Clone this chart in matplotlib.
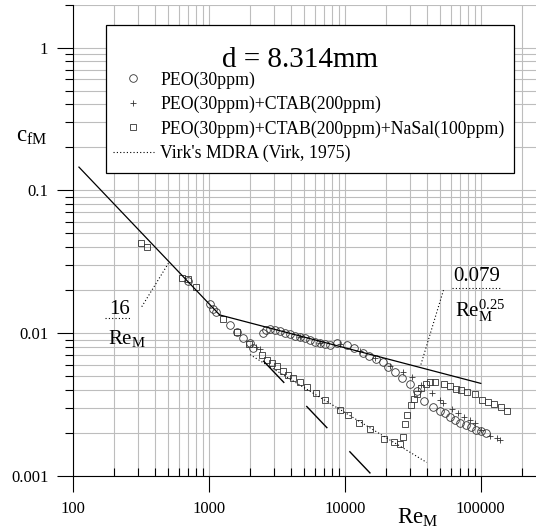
import numpy as np
import matplotlib
matplotlib.use('Agg')
import matplotlib.pyplot as plt
from matplotlib.patches import Rectangle
from matplotlib.ticker import LogLocator, NullFormatter

plt.rcParams['font.family'] = ['Liberation Serif', 'DejaVu Serif']
plt.rcParams['mathtext.fontset'] = 'custom'
plt.rcParams['mathtext.rm'] = 'Liberation Serif'
plt.rcParams['mathtext.it'] = 'Liberation Serif:italic'
plt.rcParams['mathtext.bf'] = 'Liberation Serif:bold'

# PEO(30ppm) - circles
peo_re = [699, 1015, 1068, 1124, 1425, 1597, 1786, 2001, 2116, 2506, 2602, 2809, 3058, 3327,
          3623, 3942, 4291, 4670, 5083, 5534, 6024, 6556, 7139, 7770, 8702, 10310, 11670,
          13480, 15050, 16940, 18920, 20770, 23190, 26340, 29900, 33960, 38240, 44770,
          50150, 54600, 59420, 64700, 70410, 77970, 84850, 92360, 100500, 109400]
peo_cf = [0.0232, 0.0159, 0.0148, 0.0141, 0.0114, 0.0102, 0.0092, 0.00848, 0.00782, 0.00997,
          0.01043, 0.01063, 0.01051, 0.01039, 0.01006, 0.00986, 0.00954, 0.00939, 0.00920,
          0.00890, 0.00871, 0.00852, 0.00843, 0.00829, 0.00848, 0.00825, 0.00782, 0.00729,
          0.00691, 0.00653, 0.00624, 0.00582, 0.00530, 0.00486, 0.00443, 0.00393, 0.00336,
          0.00303, 0.00284, 0.00274, 0.00259, 0.00247, 0.00236, 0.00227, 0.00219, 0.00210,
          0.00205, 0.00200]

# PEO(30ppm)+CTAB(200ppm) - plus
ctab_re = [2215, 2370, 4670, 6556, 9203, 12920, 16650, 21480, 26570, 31040, 36340, 43570,
           50150, 53040, 61160, 68420, 75370, 83410, 90780, 100500, 117100, 131200, 138800]
ctab_cf = [0.00793, 0.00774, 0.00931, 0.00846, 0.00832, 0.00743, 0.00664, 0.00588, 0.00537,
           0.00493, 0.00436, 0.00380, 0.00341, 0.00322, 0.00294, 0.00275, 0.00258, 0.00244,
           0.00233, 0.00209, 0.00189, 0.00184, 0.00178]

# PEO(30ppm)+CTAB(200ppm)+NaSal(100ppm) - squares
nasal_re = [314, 347, 626, 693, 801, 1272, 1613, 1977, 2452, 2669, 2906, 3162, 3519, 3831,
            4169, 4670, 5233, 6075, 7139, 9203, 10590, 12760, 15180, 19410, 22800, 25590,
            26920, 27710, 28670, 30420, 32010, 33680, 36340, 39560, 42340, 46080, 53670,
            58910, 65220, 71030, 79290, 90030, 101700, 112200, 124600, 141100, 156200]
nasal_cf = [0.0426, 0.0403, 0.0242, 0.0239, 0.0211, 0.0125, 0.0102, 0.00839, 0.00697, 0.00648,
            0.00614, 0.00588, 0.00543, 0.00509, 0.00482, 0.00456, 0.00421, 0.00378, 0.00340,
            0.00288, 0.00265, 0.00233, 0.00211, 0.00182, 0.00173, 0.00167, 0.00186, 0.00231,
            0.00265, 0.00313, 0.00345, 0.00377, 0.00410, 0.00440, 0.00454, 0.00454, 0.00442,
            0.00424, 0.00408, 0.00401, 0.00389, 0.00374, 0.00341, 0.00331, 0.00319, 0.00301,
            0.00286]

# reference lines (end points)
laminar_re = [110, 1195]
laminar_cf = [0.1455, 0.0134]
blasius_re = [1195, 100000]
blasius_cf = [0.0134, 0.00444]
lam_ext_re = [2500, 16000]
lam_ext_cf = [0.0064, 0.001]
virk_re = [2000, 40000]
virk_cf = [0.00706, 0.00124]

x_ticks = [100, 1000, 10000, 100000]
x_tick_labels = ['100', '1000', '10000', '100000']
y_ticks = [0.001, 0.01, 0.1, 1]
y_tick_labels = ['0.001', '0.01', '0.1', '1']

fig = plt.figure(figsize=(5.36, 5.30), dpi=100)
ax = fig.add_axes([0.1368, 0.1023, 0.8632, 0.8889])
ax.set_xscale('log')
ax.set_yscale('log')
ax.set_xlim(100, 255000)
ax.set_ylim(0.001, 2.0)

mk = dict(ls='none', mfc='none', mec='0.2', mew=0.6)
h1, = ax.plot(peo_re, peo_cf, marker='o', ms=5.5, label='PEO(30ppm)', **mk)
h2, = ax.plot(ctab_re, ctab_cf, marker='+', ms=4.5, label='PEO(30ppm)+CTAB(200ppm)', **mk)
h3, = ax.plot(nasal_re, nasal_cf, marker='s', ms=5.0,
              label='PEO(30ppm)+CTAB(200ppm)+NaSal(100ppm)', **mk)

ax.plot(laminar_re, laminar_cf, color='black', lw=0.9)
ax.plot(blasius_re, blasius_cf, color='black', lw=0.9)
ax.plot(lam_ext_re, lam_ext_cf, color='black', lw=1.0, dashes=(22, 23))
h4, = ax.plot(virk_re, virk_cf, color='black', lw=0.8, dashes=(1, 2),
              label="Virk's MDRA (Virk, 1975)")

# annotations 16/Re_M and 0.079/Re_M^0.25
ax.plot([319, 501], [0.0153, 0.0308], color='black', lw=0.8, dashes=(1, 2))
ax.text(219, 0.01451, '16', fontsize=15, ha='center', va='center')
ax.plot([172, 261], [0.01276, 0.01276], color='black', lw=0.8, dashes=(1, 2))
ax.text(181, 0.00839, r'$\mathrm{Re}_{\mathrm{M}}$', fontsize=15, ha='left', va='baseline')

ax.plot([53130, 35970], [0.0200, 0.00588], color='black', lw=0.8, dashes=(1, 2))
ax.text(93930, 0.02493, '0.079', fontsize=15, ha='center', va='center')
ax.plot([61660, 140900], [0.0207, 0.0207], color='black', lw=0.8, dashes=(1, 2))
ax.text(64700, 0.01297, r'$\mathrm{Re}_{\mathrm{M}}^{0.25}$', fontsize=15, ha='left',
        va='baseline')

# axes styling
ax.set_xticks(x_ticks, labels=x_tick_labels)
ax.set_yticks(y_ticks, labels=y_tick_labels)
ax.xaxis.set_minor_locator(LogLocator(base=10, subs=np.arange(2, 10), numticks=20))
ax.yaxis.set_minor_locator(LogLocator(base=10, subs=np.arange(2, 10), numticks=20))
ax.xaxis.set_minor_formatter(NullFormatter())
ax.yaxis.set_minor_formatter(NullFormatter())
ax.tick_params(which='major', direction='out', length=11.5, width=0.8, labelsize=12)
ax.tick_params(axis='y', which='major', pad=6.5)
ax.tick_params(axis='x', which='major', pad=7)
ax.tick_params(axis='x', which='minor', direction='in', length=5.5, width=0.8)
ax.tick_params(axis='y', which='minor', direction='out', length=5.5, width=0.8)
ax.grid(True, which='both', color='0.74', lw=0.8)
ax.set_axisbelow(True)
for s in ['top', 'right']:
    ax.spines[s].set_visible(False)
for s in ['left', 'bottom']:
    ax.spines[s].set_linewidth(0.8)

ax.text(-0.124, 0.72, r'$\mathrm{c}_{\mathrm{fM}}$', fontsize=16.5, transform=ax.transAxes,
        ha='left', va='center')
ax.text(0.6996, -0.113, r'$\mathrm{Re}_{\mathrm{M}}$', fontsize=16.5, transform=ax.transAxes,
        ha='left', va='bottom')

# legend box drawn by hand (frame + shadow + title), entries via ax.legend
bx0, bx1, by0, by1 = 0.0707, 0.9514, 0.6427, 0.9569
ax.add_patch(Rectangle((bx0 + 0.003, by0 - 0.003), bx1 - bx0, by1 - by0,
                       transform=ax.transAxes, facecolor='0.45', edgecolor='none',
                       clip_on=False, zorder=4.4))
ax.add_patch(Rectangle((bx0, by0), bx1 - bx0, by1 - by0, transform=ax.transAxes,
                       facecolor='white', edgecolor='black', lw=0.9, clip_on=False,
                       zorder=4.5))
ax.text(0.490, 0.8826, 'd = 8.314mm', fontsize=21, transform=ax.transAxes,
        ha='center', va='center', zorder=6)
leg = ax.legend([h1, h2, h3, h4],
                [h.get_label() for h in [h1, h2, h3, h4]],
                loc='upper left', bbox_to_anchor=(0.0858, 0.8584), fontsize=12.8,
                numpoints=1, frameon=False, borderaxespad=0, borderpad=0,
                labelspacing=0.405, handlelength=2.3, handletextpad=0.35)
leg.set_zorder(6)

fig.savefig('out.png', dpi=100)
